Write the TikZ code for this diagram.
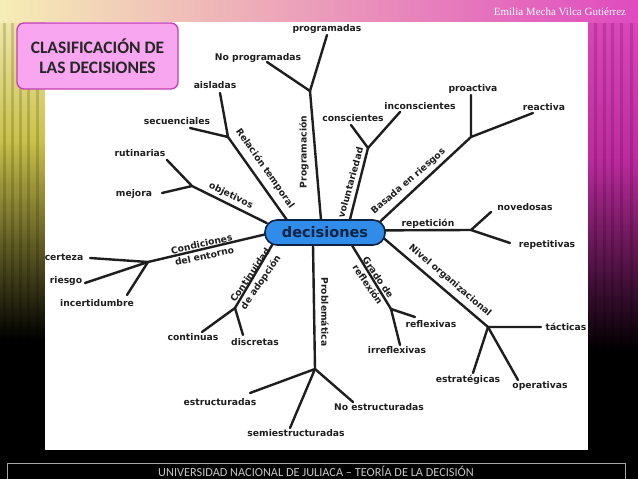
\documentclass[tikz,border=0pt]{standalone}
\usepackage{fontspec}
\setmainfont{DejaVu Sans}
\newfontfamily\titlefont{Carlito}
\newfontfamily\authorfont{Liberation Serif}
\definecolor{pale}{HTML}{F6EDB5}
\definecolor{peach}{HTML}{F4C6AE}
\definecolor{hotpink}{HTML}{E04ABF}
\definecolor{olive}{HTML}{C9C24A}
\definecolor{mag}{HTML}{BC2A9E}
\definecolor{titlefill}{HTML}{F7A6EF}
\definecolor{titledraw}{HTML}{C53FB6}
\definecolor{nodeblue}{HTML}{2F8CE8}
\definecolor{navy}{HTML}{0C2344}
\definecolor{ink}{HTML}{1E1E1E}
\pgfdeclarelayer{back}
\pgfdeclarelayer{lines}
\pgfsetlayers{back,lines,main}
\tikzset{
  branch/.style={draw=ink, line width=2.4pt, line cap=round, line join=round},
  trunk/.style={branch, shorten <=-3pt},
  leaf/.style={font=\bfseries\fontsize{9.2}{10.5}\selectfont, text=ink, inner sep=0pt, align=center},
  twoline/.style={leaf, font=\bfseries\fontsize{9.2}{12.5}\selectfont},
  hub/.style={draw=navy, line width=1.6pt, fill=nodeblue, rounded corners=12pt,
    minimum width=120pt, minimum height=25pt, inner sep=0pt,
    font=\bfseries\fontsize{14.5}{15}\selectfont, text=navy},
  titlebox/.style={draw=titledraw, line width=1.3pt, fill=titlefill, rounded corners=7pt,
    minimum width=161pt, minimum height=66pt, align=center,
    font=\titlefont\bfseries\fontsize{17.5}{20}\selectfont, text=black!85},
  stripe/.style={black, opacity=.15}
}
\begin{document}
\begin{tikzpicture}[x=1pt,y=-1pt]
\useasboundingbox (0,0) rectangle (638,479);
\begin{pgfonlayer}{back}
  \fill[black] (0,0) rectangle (638,479);
  \shade[top color=pale, bottom color=olive] (0,0) rectangle (45,140);
  \shade[top color=olive, bottom color=black] (0,140) rectangle (45,340);
  \shade[top color=hotpink, bottom color=mag] (588,0) rectangle (638,160);
  \shade[top color=mag, bottom color=black] (588,160) rectangle (638,350);
  \foreach \sx in {3,11,19,27,36}{\fill[stripe] (\sx,0) rectangle ++(3,450);}
  \foreach \sx in {594,603,611,620,630}{\fill[stripe] (\sx,0) rectangle ++(3,450);}
  \shade[left color=pale, middle color=peach, right color=hotpink] (0,0) rectangle (638,22);
  \fill[white] (45,22) rectangle (588,450);
\end{pgfonlayer}

% header / footer
\node[titlebox] (title) at (97.5,56) {CLASIFICACIÓN DE\\LAS DECISIONES};
\node[font=\authorfont\fontsize{11}{12}\selectfont, text=white, inner sep=0pt] (author) at (560,12) {Emilia Mecha Vilca Gutiérrez};
\draw[gray!70!white, line width=0.8pt] (7,481) -- (7,463.5) -- (625,463.5) -- (625,481);
\node[font=\titlefont\fontsize{12.3}{13}\selectfont, text=black!22, inner sep=0pt] (footer) at (316,471.5) {UNIVERSIDAD NACIONAL DE JULIACA – TEORÍA DE LA DECISIÓN};

% hub
\node[hub] (dec) at (325,232.5) {decisiones};

% forks and leaf ends
\coordinate (pf) at (310,91);  \coordinate (p1) at (327,35);  \coordinate (p2) at (267,62);
\coordinate (vf) at (368,148); \coordinate (v1) at (351,125); \coordinate (v2) at (400,112);
\coordinate (bf) at (471,137); \coordinate (b1) at (471,95);  \coordinate (b2) at (533,113);
\coordinate (rf) at (471,230); \coordinate (r1) at (491,212); \coordinate (r2) at (510,243);
\coordinate (nf) at (488,327); \coordinate (n1) at (541,327); \coordinate (n2) at (473,373); \coordinate (n3) at (518,380);
\coordinate (gf) at (391,309); \coordinate (g1) at (415,317); \coordinate (g2) at (400,345);
\coordinate (qf) at (315,369); \coordinate (q1) at (250,393); \coordinate (q2) at (290,428); \coordinate (q3) at (353,402);
\coordinate (cf) at (235,308); \coordinate (c1) at (202,332); \coordinate (c2) at (243,335);
\coordinate (ef) at (148,262); \coordinate (e1) at (90,258);  \coordinate (e2) at (85,283);  \coordinate (e3) at (127,295);
\coordinate (of) at (192,186); \coordinate (o1) at (167,160); \coordinate (o2) at (162,193);
\coordinate (tf) at (228,137); \coordinate (t1) at (220,93);  \coordinate (t2) at (190,128);

% leaf labels
\node[leaf] (lp1) at (327,29)  {programadas};
\node[leaf] (lp2) at (258,58)  {No programadas};
\node[leaf] (lv1) at (353,118) {conscientes};
\node[leaf] (lv2) at (420,106) {inconscientes};
\node[leaf] (lb1) at (473,89)  {proactiva};
\node[leaf] (lb2) at (544,107) {reactiva};
\node[leaf] (lr1) at (525,207) {novedosas};
\node[leaf] (lr2) at (547,245) {repetitivas};
\node[leaf] (ln1) at (566,327) {tácticas};
\node[leaf] (ln2) at (468,380) {estratégicas};
\node[leaf] (ln3) at (540,386) {operativas};
\node[leaf] (lg1) at (431,324) {reflexivas};
\node[leaf] (lg2) at (397,350) {irreflexivas};
\node[leaf] (lq1) at (220,402) {estructuradas};
\node[leaf] (lq2) at (296,433) {semiestructuradas};
\node[leaf] (lq3) at (379,407) {No estructuradas};
\node[leaf] (lc1) at (193,337) {continuas};
\node[leaf] (lc2) at (255,342) {discretas};
\node[leaf] (le1) at (64,257)  {certeza};
\node[leaf] (le2) at (66,281)  {riesgo};
\node[leaf] (le3) at (97,303)  {incertidumbre};
\node[leaf] (lo1) at (140,153) {rutinarias};
\node[leaf] (lo2) at (134,194) {mejora};
\node[leaf] (lt1) at (177,121) {secuenciales};
\node[leaf] (lt2) at (215,85)  {aisladas};

% branch labels
\node[leaf, rotate=90]    (kp) at (304,152) {Programación};
\node[leaf, rotate=74.5]  (kv) at (350.5,182.5) {voluntariedad};
\node[leaf, rotate=41]    (kb) at (408.5,181.5) {Basada en riesgos};
\node[leaf]               (kr) at (428,224) {repetición};
\node[leaf, rotate=-40.5] (kn) at (450,280.5) {Nivel organizacional};
\node[twoline, rotate=-56]  (kg) at (373,281) {Grado de\\reflexión};
\node[leaf, rotate=-90]   (kq) at (325,312) {Problemática};
\node[twoline, rotate=55.5] (kc) at (256,279) {Continuidad\\de adopción};
\node[twoline, rotate=12.5] (ke) at (203,250) {Condiciones\\del entorno};
\node[leaf, rotate=-26]   (ko) at (231,196) {objetivos};
\node[leaf, rotate=-55]   (kt) at (265,168.5) {Relación temporal};

\begin{pgfonlayer}{lines}
  \draw[trunk] (dec.107.7) -- (pf);  \draw[branch] (p1) -- (pf) -- (p2);
  \draw[trunk] (dec.28.5)  -- (vf);  \draw[branch] (v1) -- (vf) -- (v2);
  \draw[trunk] (dec.13.8)  -- (bf);  \draw[branch] (b1) -- (bf) -- (b2);
  \draw[trunk] (dec.2.4)   -- (rf);  \draw[branch] (r1) -- (rf) -- (r2);
  \draw[trunk] (dec.-7.1)  -- (nf);  \draw[branch] (n1) -- (nf) -- (n2); \draw[branch] (nf) -- (n3);
  \draw[trunk] (dec.-26.6) -- (gf);  \draw[branch] (g1) -- (gf) -- (g2);
  \draw[trunk] (dec.228.7) -- (qf);  \draw[branch] (q1) -- (qf) -- (q2); \draw[branch] (qf) -- (q3);
  \draw[trunk] (dec.194.6) -- (cf);  \draw[branch] (c1) -- (cf) -- (c2);
  \draw[trunk] (dec.182.4) -- (ef);  \draw[branch] (e1) -- (ef) -- (e2); \draw[branch] (ef) -- (e3);
  \draw[trunk] (dec.170.1) -- (of);  \draw[branch] (o1) -- (of) -- (o2);
  \draw[trunk] (dec.161.8) -- (tf);  \draw[branch] (t1) -- (tf) -- (t2);
\end{pgfonlayer}
\end{tikzpicture}
\end{document}
